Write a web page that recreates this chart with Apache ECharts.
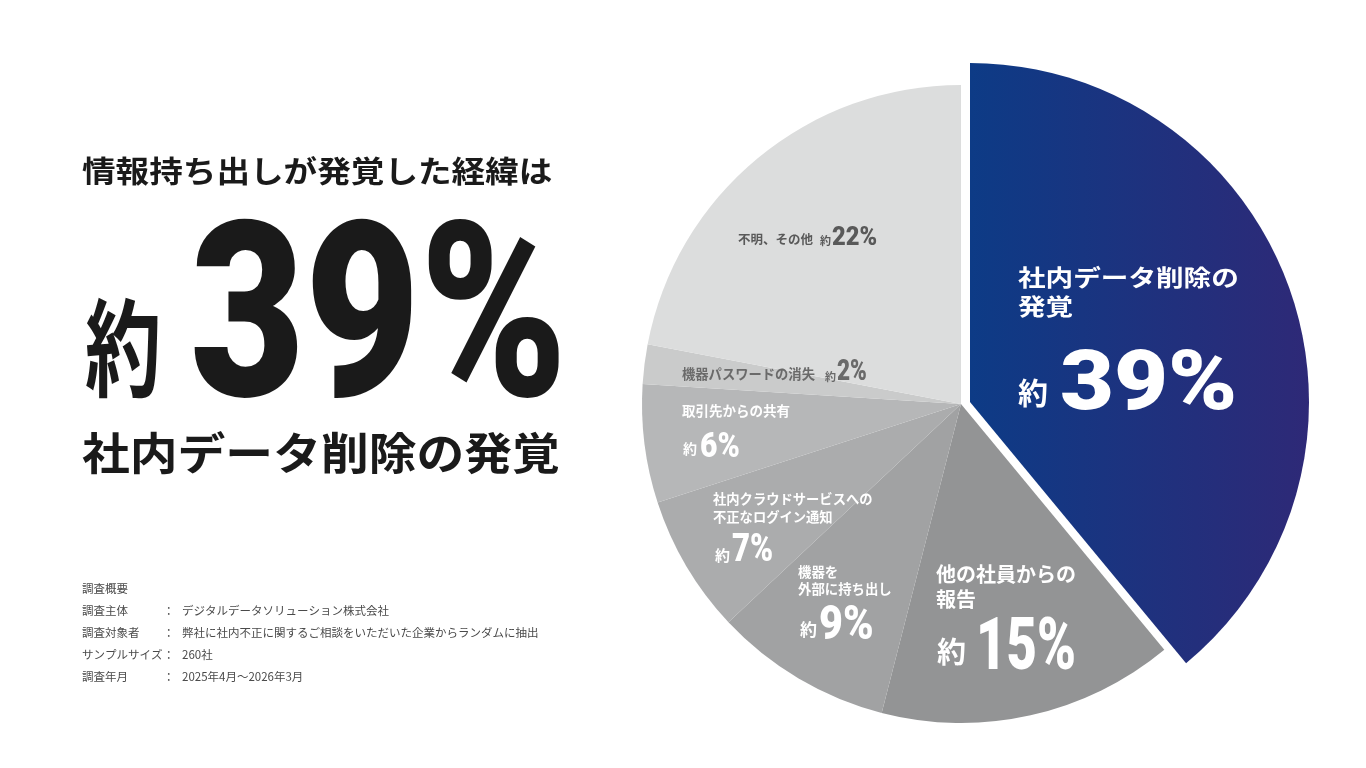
<!DOCTYPE html>
<html>
<head>
    <meta charset="utf-8">
    <title>情報持ち出しが発覚した経緯</title>
    <script src="https://cdn.jsdelivr.net/npm/echarts/dist/echarts.min.js"></script>
    <style>
        html, body { margin: 0; padding: 0; background: #ffffff; }
        #main { width: 1366px; height: 768px; }
    </style>
</head>
<body>
<div id="main"></div>
<script type="text/javascript">
    // データ（時計回り、12時の位置から）
    var categories = ['社内データ削除の発覚', '他の社員からの報告', '機器を外部に持ち出し',
        '社内クラウドサービスへの不正なログイン通知', '取引先からの共有', '機器パスワードの消失', '不明、その他'];
    var values = [39, 15, 9, 7, 6, 2, 22];
    // ラベル表示用（改行位置）
    var labelNames = ['社内データ削除の\n発覚', '他の社員からの\n報告', '機器を\n外部に持ち出し',
        '社内クラウドサービスへの\n不正なログイン通知', '取引先からの共有', '機器パスワードの消失', '不明、その他'];

    // 見出しと調査概要
    var headline = '情報持ち出しが発覚した経緯は';
    var subline = '社内データ削除の発覚';
    var surveyTitle = '調査概要';
    var surveyKeys = ['調査主体', '調査対象者', 'サンプルサイズ', '調査年月'];
    var surveyVals = ['デジタルデータソリューション株式会社', '弊社に社内不正に関するご相談をいただいた企業からランダムに抽出', '260社', '2025年4月～2026年3月'];

    // スタイル
    var grays = [null, '#939495', '#a1a2a3', '#abacad', '#b6b7b8', '#cacbcb', '#dcdddd'];
    var blue = new echarts.graphic.LinearGradient(0, 0, 1, 0, [
        {offset: 0, color: '#0d3b86'},
        {offset: 1, color: '#2e2977'}
    ]);
    var JP = '"Noto Sans CJK JP"';
    var NUM = 'Roboto';

    // ラベル位置 [名前x, 名前y, 名前size, 行高, 色, 約x, 約y, 約size, 数値x, 数値y, 数値size, 数値scaleX, 名前scaleX]
    var labelPos = [
        [1018, 292, 23, 29, '#ffffff', 1018, 393, 30, 1060, 380, 84, 1.11, 1.2],
        [936, 587, 20, 25, '#ffffff', 937, 652, 29, 976, 643, 73, 0.72, 1],
        [798, 580, 13.4, 17, '#ffffff', 800, 630, 17, 819, 622, 48, 0.86, 1],
        [713, 508, 13.3, 18, '#ffffff', 715, 555, 15, 732, 548, 38, 0.82, 1],
        [682, 411, 13.5, 17, '#ffffff', 683, 449, 14, 700, 445, 35, 0.86, 1],
        [682, 374, 13.3, 17, '#6a6a6a', 825, 377, 11, 837, 370, 29, 0.78, 1],
        [738, 239, 12.5, 17, '#595959', 820, 241, 11, 832, 236, 25, 0.95, 1]
    ];

    var myChart = echarts.init(document.getElementById('main'));

    var grayData = [];
    var blueData = [];
    for (var i = 0; i < values.length; i++) {
        grayData.push({
            name: categories[i], value: values[i],
            itemStyle: {color: i === 0 ? 'rgba(0,0,0,0)' : grays[i]}
        });
        blueData.push({
            name: categories[i], value: values[i],
            itemStyle: {color: i === 0 ? blue : 'rgba(0,0,0,0)'}
        });
    }

    var graphics = [];
    // 左側の見出し
    graphics.push({type: 'text', x: 82, y: 171, scaleX: 1.12, style: {text: headline, font: 'bold 30px ' + JP, fill: '#1a1a1a', textVerticalAlign: 'middle'}});
    graphics.push({type: 'text', x: 85, y: 348, scaleX: 0.72, style: {text: '約', font: 'bold 106px ' + JP, fill: '#1a1a1a', textVerticalAlign: 'middle'}});
    graphics.push({type: 'text', x: 190, y: 335, scaleX: 0.81, style: {text: values[0] + '%', font: '900 245px ' + NUM, fill: '#1a1a1a', textVerticalAlign: 'middle'}});
    graphics.push({type: 'text', x: 82, y: 453, scaleX: 1.086, style: {text: subline, font: 'bold 44px ' + JP, fill: '#1a1a1a', textVerticalAlign: 'middle'}});

    // 調査概要
    graphics.push({type: 'text', x: 82, y: 589, style: {text: surveyTitle, font: '11.5px ' + JP, fill: '#4a4a4a', textVerticalAlign: 'middle'}});
    for (var k = 0; k < surveyKeys.length; k++) {
        var yy = 611 + k * 22;
        graphics.push({type: 'text', x: 82, y: yy, style: {text: surveyKeys[k], font: '11.5px ' + JP, fill: '#4a4a4a', textVerticalAlign: 'middle'}});
        graphics.push({type: 'text', x: 163, y: yy, style: {text: '：', font: '11.5px ' + JP, fill: '#4a4a4a', textVerticalAlign: 'middle'}});
        graphics.push({type: 'text', x: 182, y: yy, style: {text: surveyVals[k], font: '11.5px ' + JP, fill: '#4a4a4a', textVerticalAlign: 'middle'}});
    }

    // 円グラフ内ラベル
    for (var j = 0; j < values.length; j++) {
        var p = labelPos[j];
        graphics.push({type: 'text', x: p[0], y: p[1], scaleX: p[12], z: 10, style: {
            text: labelNames[j], font: 'bold ' + p[2] + 'px ' + JP, lineHeight: p[3], fill: p[4], textVerticalAlign: 'middle'}});
        graphics.push({type: 'text', x: p[5], y: p[6], z: 10, style: {
            text: '約', font: 'bold ' + p[7] + 'px ' + JP, fill: p[4], textVerticalAlign: 'middle'}});
        graphics.push({type: 'text', x: p[8], y: p[9] + p[10] * 0.1, scaleX: p[11], z: 10, style: {
            text: values[j] + '%', font: '900 ' + p[10] + 'px ' + NUM, fill: p[4], textVerticalAlign: 'middle'}});
    }

    var option = {
        animation: false,
        series: [
            {
                type: 'pie',
                center: [961, 404],
                radius: [0, 319],
                startAngle: 90,
                clockwise: true,
                silent: true,
                label: {show: false},
                labelLine: {show: false},
                itemStyle: {borderWidth: 0},
                data: grayData
            },
            {
                type: 'pie',
                center: [970, 402],
                radius: [0, 339],
                startAngle: 90,
                clockwise: true,
                silent: true,
                label: {show: false},
                labelLine: {show: false},
                itemStyle: {borderWidth: 0},
                data: blueData
            }
        ],
        graphic: graphics
    };

    myChart.setOption(option);
</script>
</body>
</html>
